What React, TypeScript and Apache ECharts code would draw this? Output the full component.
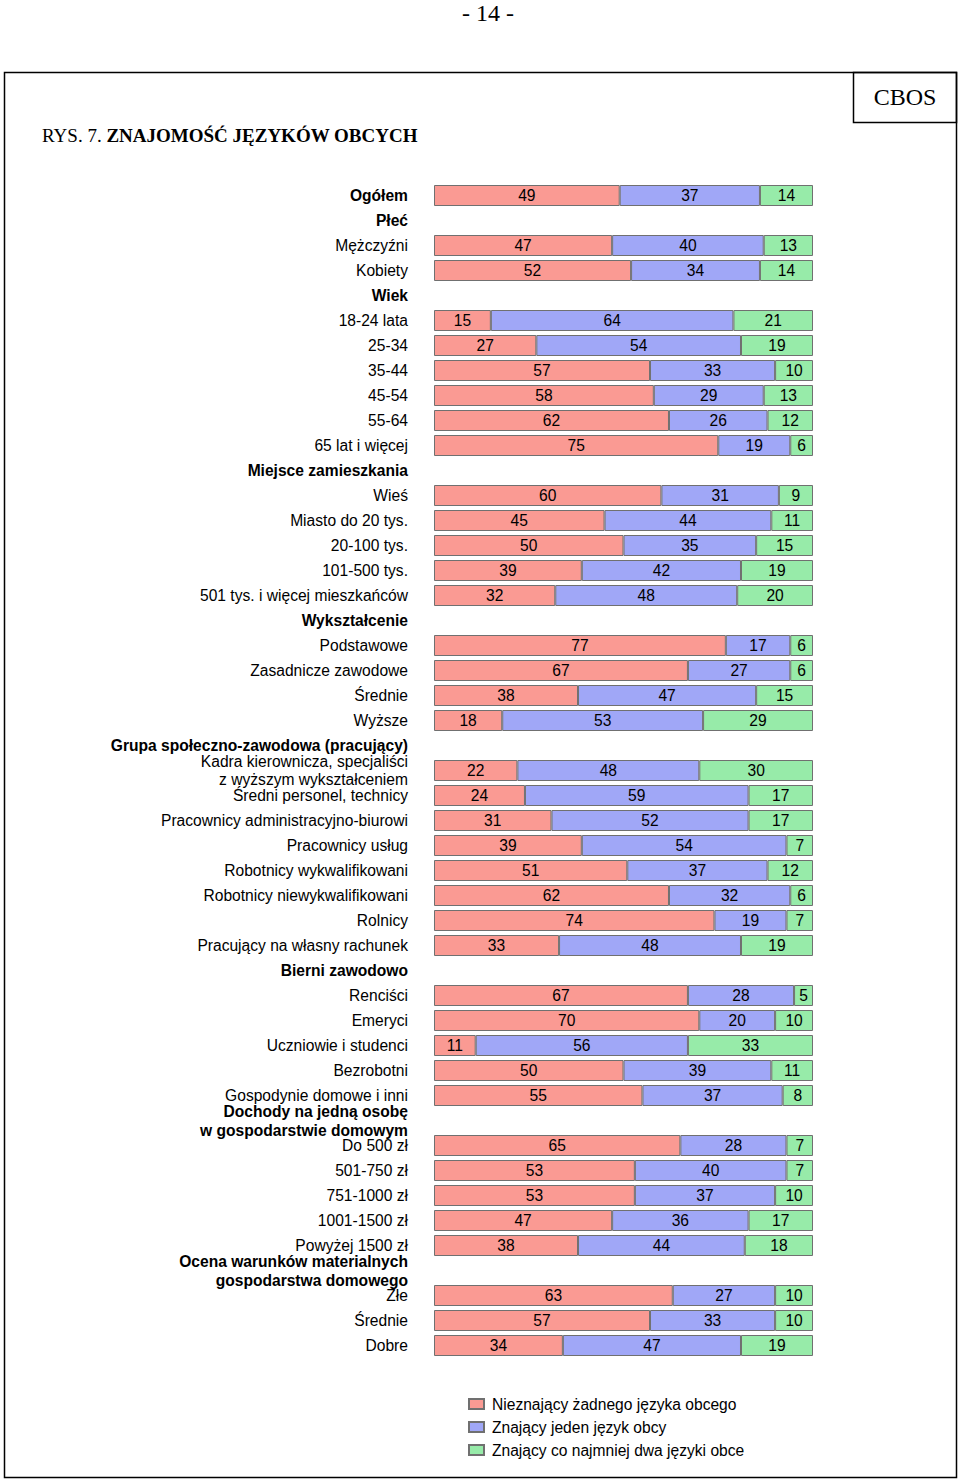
import React, { useEffect, useRef } from "react";
import * as echarts from "echarts";

const categories: string[] = [
  "Ogółem",
  "Płeć",
  "Mężczyźni",
  "Kobiety",
  "Wiek",
  "18-24 lata",
  "25-34",
  "35-44",
  "45-54",
  "55-64",
  "65 lat i więcej",
  "Miejsce zamieszkania",
  "Wieś",
  "Miasto do 20 tys.",
  "20-100 tys.",
  "101-500 tys.",
  "501 tys. i więcej mieszkańców",
  "Wykształcenie",
  "Podstawowe",
  "Zasadnicze zawodowe",
  "Średnie",
  "Wyższe",
  "Grupa społeczno-zawodowa (pracujący)",
  "Kadra kierownicza, specjaliści\nz wyższym wykształceniem",
  "Średni personel, technicy",
  "Pracownicy administracyjno-biurowi",
  "Pracownicy usług",
  "Robotnicy wykwalifikowani",
  "Robotnicy niewykwalifikowani",
  "Rolnicy",
  "Pracujący na własny rachunek",
  "Bierni zawodowo",
  "Renciści",
  "Emeryci",
  "Uczniowie i studenci",
  "Bezrobotni",
  "Gospodynie domowe i inni",
  "Dochody na jedną osobę\nw gospodarstwie domowym",
  "Do 500 zł",
  "501-750 zł",
  "751-1000 zł",
  "1001-1500 zł",
  "Powyżej 1500 zł",
  "Ocena warunków materialnych\ngospodarstwa domowego",
  "Złe",
  "Średnie ",
  "Dobre",
];

const boldLabels: string[] = [
  "Ogółem",
  "Płeć",
  "Wiek",
  "Miejsce zamieszkania",
  "Wykształcenie",
  "Grupa społeczno-zawodowa (pracujący)",
  "Bierni zawodowo",
  "Dochody na jedną osobę\nw gospodarstwie domowym",
  "Ocena warunków materialnych\ngospodarstwa domowego",
];

const seriesNames: string[] = [
  "Nieznający żadnego języka obcego",
  "Znający jeden język obcy",
  "Znający co najmniej dwa języki obce",
];

const noneLang: (number | null)[] = [
  49, null, 47, 52, null, 15, 27, 57, 58, 62, 75, null, 60, 45, 50, 39, 32, null,
  77, 67, 38, 18, null, 22, 24, 31, 39, 51, 62, 74, 33, null, 67, 70, 11, 50, 55,
  null, 65, 53, 53, 47, 38, null, 63, 57, 34,
];

const oneLang: (number | null)[] = [
  37, null, 40, 34, null, 64, 54, 33, 29, 26, 19, null, 31, 44, 35, 42, 48, null,
  17, 27, 47, 53, null, 48, 59, 52, 54, 37, 32, 19, 48, null, 28, 20, 56, 39, 37,
  null, 28, 40, 37, 36, 44, null, 27, 33, 47,
];

const twoLang: (number | null)[] = [
  14, null, 13, 14, null, 21, 19, 10, 13, 12, 6, null, 9, 11, 15, 19, 20, null,
  6, 6, 15, 29, null, 30, 17, 17, 7, 12, 6, 7, 19, null, 5, 10, 33, 11, 8,
  null, 7, 7, 10, 17, 18, null, 10, 10, 19,
];

const colors: string[] = ["#FA9A93", "#A0A7F7", "#97EBA9"];

export default function App() {
  const ref = useRef<HTMLDivElement>(null);

  useEffect(() => {
    if (!ref.current) return;
    const chart = echarts.init(ref.current, null, { renderer: "svg" });
    const sans = "Liberation Sans, Arial, sans-serif";
    const serif = "Liberation Serif, Times New Roman, serif";
    const fs = 15.6;
    const dataSets = [noneLang, oneLang, twoLang];

    const option: any = {
      animation: false,
      backgroundColor: "#ffffff",
      grid: { left: 434, width: 379, top: 183, height: 1175 },
      xAxis: { type: "value", min: 0, max: 100, show: false },
      yAxis: {
        type: "category",
        inverse: true,
        data: categories,
        axisLine: { show: false },
        axisTick: { show: false },
        splitLine: { show: false },
        axisLabel: {
          interval: 0,
          margin: 26,
          fontSize: fs,
          color: "#000",
          fontFamily: sans,
          formatter: (v: string) => {
            const isBold = boldLabels.indexOf(v) >= 0;
            const key = isBold ? "b" : "n";
            return v
              .trim()
              .split("\n")
              .map((l) => `{${key}|${l}}`)
              .join("\n");
          },
          rich: {
            n: { fontSize: fs, fontFamily: sans, color: "#000", lineHeight: 18 },
            b: { fontSize: fs, fontFamily: sans, fontWeight: "bold", color: "#000", lineHeight: 19 },
          },
        },
      },
      legend: {
        orient: "vertical",
        left: 463,
        top: 1390,
        itemWidth: 15,
        itemHeight: 10,
        itemGap: 5,
        icon: "rect",
        data: seriesNames,
        textStyle: {
          fontSize: fs,
          fontFamily: sans,
          color: "#000",
          padding: [0, 0, 0, 3],
          lineHeight: 18,
        },
      },
      series: dataSets.map((d, i) => ({
        name: seriesNames[i],
        type: "bar",
        stack: "total",
        barWidth: 21,
        data: d,
        itemStyle: {
          color: colors[i],
          borderColor: "#707070",
          borderWidth: 1,
        },
        label: {
          show: true,
          position: "inside",
          color: "#000",
          fontSize: fs,
          fontFamily: sans,
          formatter: (p: any) => (p.value == null ? "" : String(p.value)),
        },
      })),
      graphic: [
        {
          type: "text",
          x: 488,
          y: 13,
          style: {
            text: "- 14 -",
            font: `24px ${serif}`,
            fill: "#000",
            align: "center",
            verticalAlign: "middle",
          },
        },
        {
          type: "rect",
          shape: { x: 4.5, y: 72.5, width: 952, height: 1405 },
          style: { fill: "none", stroke: "#000", lineWidth: 1.5 },
        },
        {
          type: "rect",
          shape: { x: 853.5, y: 72.5, width: 103, height: 50 },
          style: { fill: "none", stroke: "#000", lineWidth: 1.5 },
        },
        {
          type: "text",
          x: 905,
          y: 97,
          style: {
            text: "CBOS",
            font: `24px ${serif}`,
            fill: "#000",
            align: "center",
            verticalAlign: "middle",
          },
        },
        {
          type: "text",
          x: 42,
          y: 135,
          style: {
            text: "{n|RYS. 7. }{b|ZNAJOMOŚĆ JĘZYKÓW OBCYCH}",
            verticalAlign: "middle",
            rich: {
              n: { fontSize: 19, fontFamily: serif, color: "#000" },
              b: { fontSize: 19, fontFamily: serif, fontWeight: "bold", color: "#000" },
            },
          },
        },
      ],
    };

    chart.setOption(option);
    return () => chart.dispose();
  }, []);

  return (
    <div
      ref={ref}
      style={{ position: "absolute", left: 0, top: 0, width: 960, height: 1480 }}
    />
  );
}
